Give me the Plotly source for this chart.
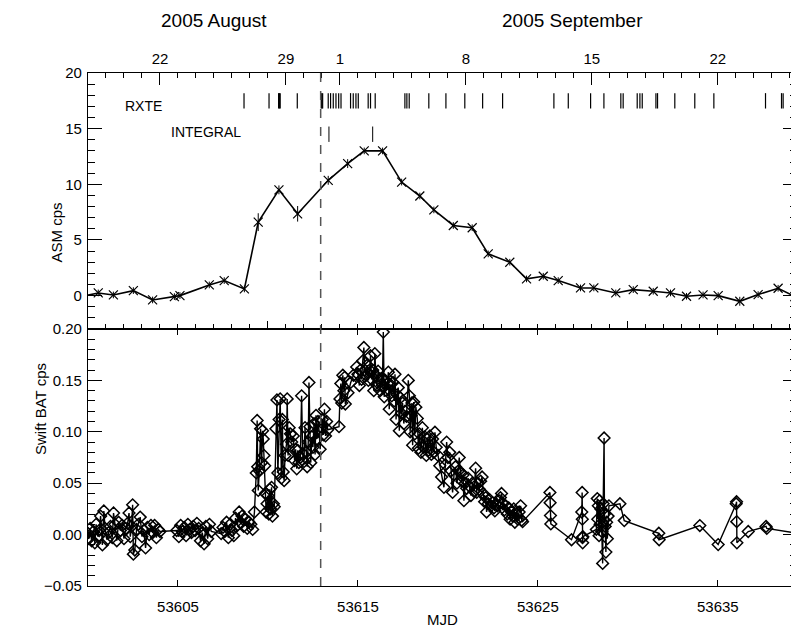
import plotly.graph_objects as go

# RXTE ASM daily averages
asm_mjd = [53599.6, 53600.57, 53601.41, 53602.52, 53603.59, 53604.80, 53605.11, 53606.74, 53607.57,
           53608.69, 53609.46, 53610.61, 53611.65, 53613.35, 53614.43, 53615.35, 53616.37, 53617.43,
           53618.44, 53619.22, 53620.30, 53621.35, 53622.24, 53623.44, 53624.37, 53625.30, 53626.13,
           53627.37, 53628.11, 53629.33, 53630.30, 53631.41, 53632.37, 53633.26, 53634.18, 53635.02,
           53636.22, 53637.24, 53638.35, 53639.28, 53640.2]
asm_cps = [-0.1, 0.24, 0.06, 0.45, -0.39, -0.09, 0.0, 0.96, 1.35,
           0.6, 6.6, 9.5, 7.35, 10.36, 11.86, 13.0, 13.0, 10.2,
           8.95, 7.7, 6.3, 6.1, 3.75, 3.0, 1.5, 1.74, 1.35,
           0.69, 0.69, 0.24, 0.54, 0.39, 0.24, -0.06, 0.06, 0.0,
           -0.51, 0.09, 0.66, -0.09, -0.3]
asm_err = [0.3, 0.3, 0.3, 0.3, 0.3, 0.3, 0.3, 0.3, 0.3,
           0.3, 0.8, 0.4, 0.7, 0.4, 0.4, 0.3, 0.3, 0.3,
           0.3, 0.3, 0.3, 0.3, 0.3, 0.3, 0.3, 0.3, 0.3,
           0.3, 0.3, 0.3, 0.3, 0.3, 0.3, 0.3, 0.3, 0.3,
           0.4, 0.3, 0.3, 0.3, 0.3]

# Swift BAT orbit-by-orbit rates
bat_mjd = [
    53599.95, 53600.05, 53600.12, 53600.20, 53600.30, 53600.38, 53600.45, 53600.55, 53600.62, 53600.70,
    53600.80, 53600.88, 53600.95, 53601.05, 53601.15, 53601.25, 53601.35, 53601.42, 53601.50, 53601.60,
    53601.70, 53601.80, 53601.90, 53602.00, 53602.10, 53602.20, 53602.28, 53602.35, 53602.42, 53602.48,
    53602.52, 53602.60, 53602.70, 53602.80, 53602.90, 53603.00, 53603.10, 53603.20, 53603.30, 53603.40,
    53603.50, 53603.60, 53603.70, 53603.80, 53603.90, 53604.00,
    53604.93, 53605.05, 53605.15, 53605.25, 53605.35, 53605.45, 53605.55, 53605.65, 53605.75, 53605.85,
    53605.95, 53606.05, 53606.15, 53606.25, 53606.35, 53606.45, 53606.55, 53606.65, 53606.75, 53606.85,
    53607.40, 53607.50, 53607.60, 53607.70, 53607.80, 53607.90, 53608.00, 53608.10, 53608.20, 53608.30,
    53608.40, 53608.48, 53608.56, 53608.65, 53608.75, 53608.85, 53608.95, 53609.05, 53609.15, 53609.25,
    53609.35, 53609.40, 53609.43, 53609.46, 53609.52, 53609.59, 53609.65, 53609.70, 53609.74, 53609.78,
    53609.82, 53609.86, 53609.90, 53609.95, 53610.00, 53610.05, 53610.10, 53610.15, 53610.20, 53610.25,
    53610.30, 53610.35, 53610.44, 53610.50, 53610.55, 53610.62, 53610.68, 53610.75, 53610.80, 53610.85,
    53610.90, 53610.95, 53611.03, 53611.07, 53611.12, 53611.18, 53611.25, 53611.32, 53611.41, 53611.48,
    53611.54, 53611.60, 53611.66, 53611.72, 53611.80, 53611.87, 53611.93, 53612.00, 53612.06, 53612.12,
    53612.18, 53612.24, 53612.28, 53612.33, 53612.38, 53612.44, 53612.50, 53612.56, 53612.62, 53612.67,
    53612.72, 53612.78, 53612.85, 53612.90, 53612.96, 53613.02, 53613.08, 53613.14, 53613.20, 53613.26,
    53613.32, 53613.95, 53614.00, 53614.05, 53614.10, 53614.16, 53614.22, 53614.26, 53614.30,
    53614.45, 53614.60, 53614.75, 53614.93, 53615.00, 53615.08, 53615.14, 53615.20, 53615.27, 53615.33,
    53615.38, 53615.45, 53615.52, 53615.58, 53615.65, 53615.70, 53615.76, 53615.82, 53615.88, 53615.94,
    53616.00, 53616.06, 53616.12, 53616.18, 53616.24, 53616.30, 53616.36, 53616.41, 53616.46, 53616.52,
    53616.58, 53616.64, 53616.69, 53616.74, 53616.80, 53616.88, 53616.95, 53617.02, 53617.06, 53617.12,
    53617.18, 53617.24, 53617.30, 53617.36, 53617.42, 53617.48, 53617.55, 53617.62, 53617.70, 53617.80,
    53617.86, 53617.90, 53617.95, 53618.00, 53618.04, 53618.10, 53618.16, 53618.22, 53618.30, 53618.36,
    53618.42, 53618.50, 53618.58, 53618.65, 53618.72, 53618.80, 53618.86, 53618.92, 53619.00, 53619.08,
    53619.15, 53619.22, 53619.28, 53619.35, 53619.45, 53619.55, 53619.65, 53619.78, 53619.86, 53619.93,
    53620.00, 53620.10, 53620.18, 53620.26, 53620.34, 53620.42, 53620.50, 53620.58, 53620.63, 53620.70,
    53620.78, 53620.84, 53620.89, 53620.96, 53621.04, 53621.12, 53621.20, 53621.28, 53621.36, 53621.45,
    53621.54, 53621.60, 53621.66, 53621.74, 53621.82, 53621.90, 53621.96, 53622.04, 53622.10, 53622.15,
    53622.24, 53622.32, 53622.40, 53622.48, 53622.56, 53622.61, 53622.68, 53622.76, 53622.84, 53622.92,
    53622.98, 53623.06, 53623.14, 53623.22, 53623.30, 53623.38, 53623.46, 53623.54, 53623.60, 53623.66,
    53623.72, 53623.80, 53623.88, 53623.96, 53624.04, 53624.10, 53624.15,
    53625.67, 53625.68, 53625.70, 53625.72, 53626.87, 53627.44, 53627.46, 53627.47, 53627.48, 53627.49,
    53627.50, 53628.25, 53628.30, 53628.33, 53628.36, 53628.40, 53628.43, 53628.46, 53628.50, 53628.55,
    53628.60, 53628.63, 53628.68, 53628.70, 53628.74, 53628.78, 53628.82, 53628.86, 53628.90, 53628.95,
    53629.56, 53629.80, 53631.72, 53631.74, 53634.00, 53635.02, 53636.02, 53636.04, 53636.05, 53636.06,
    53636.69, 53637.68, 53637.72, 53639.90]
bat_cps = [
    0.002, -0.004, 0.006, -0.006, 0.003, -0.008, 0.010, -0.002, 0.004, 0.018,
    -0.010, 0.023, 0.006, -0.005, 0.002, 0.008, -0.003, 0.021, 0.010, -0.006,
    0.012, 0.004, 0.009, -0.004, 0.006, 0.011, 0.021, -0.002, 0.008, 0.029,
    -0.019, -0.015, 0.005, 0.010, 0.017, -0.002, 0.004, -0.013, 0.007, 0.000,
    0.009, 0.002, 0.009, -0.003, 0.005, 0.003,
    0.004, -0.002, 0.009, 0.003, 0.007, -0.001, 0.010, 0.005, 0.002, 0.008,
    0.004, 0.011, 0.006, -0.006, 0.002, -0.009, 0.008, -0.004, 0.010, 0.003,
    0.001, 0.007, 0.003, 0.012, -0.003, 0.010, 0.004, -0.001, 0.016, 0.009,
    0.022, 0.012, 0.018, 0.008, 0.015, 0.006, 0.012, 0.010, 0.005, 0.022,
    0.060, 0.111, 0.066, 0.043, 0.062, 0.103, 0.070, 0.101, 0.093, 0.077,
    0.067, 0.040, 0.022, 0.030, 0.038, 0.020, 0.044, 0.025, 0.046, 0.018,
    0.030, 0.027, 0.103, 0.131, 0.060, 0.112, 0.132, 0.055, 0.112, 0.061,
    0.0525, 0.077, 0.088, 0.132, 0.077, 0.104, 0.098, 0.090, 0.096, 0.072,
    0.083, 0.064, 0.082, 0.070, 0.075, 0.135, 0.079, 0.071, 0.104, 0.080,
    0.066, 0.090, 0.148, 0.105, 0.070, 0.095, 0.085, 0.108, 0.078, 0.116,
    0.093, 0.110, 0.100, 0.083, 0.104, 0.112, 0.097, 0.122, 0.096, 0.110,
    0.102, 0.105, 0.132, 0.147, 0.128, 0.155, 0.140, 0.153, 0.127,
    0.138, 0.148, 0.155, 0.163, 0.156, 0.145, 0.160, 0.151, 0.169, 0.182,
    0.160, 0.155, 0.165, 0.150, 0.160, 0.174, 0.151, 0.160, 0.140, 0.176,
    0.155, 0.145, 0.159, 0.150, 0.140, 0.152, 0.145, 0.197, 0.134, 0.150,
    0.140, 0.147, 0.158, 0.122, 0.146, 0.135, 0.148, 0.130, 0.156, 0.112,
    0.136, 0.143, 0.101, 0.133, 0.118, 0.128, 0.108, 0.120, 0.115, 0.150,
    0.135, 0.100, 0.116, 0.128, 0.087, 0.129, 0.098, 0.124, 0.113, 0.084,
    0.098, 0.080, 0.104, 0.085, 0.095, 0.077, 0.093, 0.082, 0.096, 0.078,
    0.093, 0.080, 0.0996, 0.085, 0.077, 0.067, 0.056, 0.046, 0.068, 0.090,
    0.075, 0.080, 0.062, 0.041, 0.058, 0.066, 0.050, 0.062, 0.075, 0.061,
    0.052, 0.058, 0.033, 0.050, 0.045, 0.055, 0.047, 0.038, 0.050, 0.042,
    0.0646, 0.041, 0.050, 0.044, 0.052, 0.056, 0.040, 0.032, 0.036, 0.022,
    0.030, 0.034, 0.028, 0.031, 0.026, 0.023, 0.030, 0.028, 0.033, 0.036,
    0.040, 0.030, 0.024, 0.028, 0.020, 0.026, 0.015, 0.022, 0.018, 0.025,
    0.012, 0.020, 0.015, 0.022, 0.028, 0.014, 0.0126,
    0.041, 0.031, 0.0185, 0.0104, -0.005, 0.022, 0.041, 0.015, -0.003, -0.008,
    -0.002, 0.005, 0.035, 0.015, 0.028, -0.001, 0.033, 0.010, 0.025, 0.003,
    -0.028, 0.030, 0.094, 0.020, 0.008, -0.017, 0.012, -0.004, 0.018, 0.028,
    0.030, 0.0136, 0.0013, -0.005, 0.0088, -0.0097, 0.030, 0.032, 0.0126, -0.008,
    0.003, 0.008, 0.006, 0.000]

# pointed observations
rxte_mjd = [53608.67, 53610.06, 53610.59, 53610.64, 53610.68, 53611.63, 53612.96, 53613.00, 53613.04,
            53613.35, 53613.48, 53613.63, 53613.78, 53613.93, 53614.06, 53614.59, 53614.74, 53614.89,
            53615.02, 53615.57, 53615.70, 53615.96, 53617.61, 53617.72, 53617.85, 53618.94,
            53619.89, 53620.94, 53621.93, 53623.04, 53625.89, 53626.69, 53627.93, 53628.67,
            53629.61, 53629.74, 53630.52, 53630.67, 53630.80, 53631.56, 53631.65, 53632.61,
            53633.72, 53634.78, 53637.65, 53638.54, 53638.63]
integral_mjd = [53613.39, 53615.82]

# top axis calendar ticks (MJD of the date)
date_mjd = [53604, 53611, 53614, 53621, 53628, 53635]
date_text = ['22', '29', '1', '8', '15', '22']
month_mjd = [53607.0, 53626.9]
month_text = ['2005 August', '2005 September']

dashed_mjd = 53612.93
x_range = [53600, 53639.4]

font = 'Liberation Sans, Arial, sans-serif'
black = 'black'

fig = go.Figure()

fig.add_trace(go.Scatter(
    x=asm_mjd, y=asm_cps, mode='lines+markers', xaxis='x', yaxis='y',
    line=dict(color=black, width=1.6),
    marker=dict(symbol='x-thin-open', size=9, color=black, line=dict(color=black, width=1.2)),
    error_y=dict(type='data', array=asm_err, width=0, thickness=1, color=black),
    showlegend=False))

fig.add_trace(go.Scatter(
    x=rxte_mjd, y=[17.5] * len(rxte_mjd), mode='markers', xaxis='x', yaxis='y',
    marker=dict(symbol='line-ns-open', size=11, color=black, line=dict(color=black, width=1.2)),
    showlegend=False))
fig.add_trace(go.Scatter(
    x=integral_mjd, y=[14.5] * len(integral_mjd), mode='markers', xaxis='x', yaxis='y',
    marker=dict(symbol='line-ns-open', size=11, color=black, line=dict(color=black, width=1)),
    showlegend=False))

fig.add_trace(go.Scatter(
    x=bat_mjd, y=bat_cps, mode='lines+markers', xaxis='x2', yaxis='y2',
    line=dict(color=black, width=1.4),
    marker=dict(symbol='diamond-open', size=9, color=black, line=dict(color=black, width=1.5)),
    showlegend=False))

# dummy trace so the calendar axis is drawn
fig.add_trace(go.Scatter(x=x_range, y=[None, None], xaxis='x3', yaxis='y',
                         showlegend=False, hoverinfo='skip'))

axis_common = dict(showline=True, linecolor=black, linewidth=1.3, showgrid=False,
                   zeroline=False, ticks='inside', tickcolor=black, tickwidth=1.2,
                   automargin=False,
                   tickfont=dict(family=font, size=15, color=black))

split = 257 / 513

# the page body adds an 8 px margin, so the figure is 8 px smaller on each side
fig.update_layout(
    width=791, height=620,
    margin=dict(l=80, r=2, t=65, b=42),
    paper_bgcolor='white', plot_bgcolor='white',
    font=dict(family=font, size=15, color=black),
    xaxis=dict(domain=[0, 1], anchor='y', range=x_range, showticklabels=False,
               tickmode='linear', tick0=53600, dtick=10, ticklen=8,
               minor=dict(ticks='inside', tick0=53600, dtick=1, ticklen=5,
                          tickcolor=black, tickwidth=1),
               **axis_common),
    xaxis3=dict(overlaying='x', anchor='y', side='top', range=x_range,
                tickmode='array', tickvals=date_mjd, ticktext=date_text, ticklen=12,
                ticklabelstandoff=2,
                minor=dict(ticks='inside', tick0=53600, dtick=1, ticklen=5,
                           tickcolor=black, tickwidth=1),
                **axis_common),
    yaxis=dict(domain=[split, 1], anchor='x', range=[-3, 20],
               tickmode='linear', tick0=0, dtick=5, ticklen=14, mirror='ticks',
               ticklabelstandoff=2,
               minor=dict(ticks='inside', dtick=1, ticklen=7, tickcolor=black, tickwidth=1),
               **axis_common),
    xaxis2=dict(domain=[0, 1], anchor='y2', range=x_range,
                tickmode='linear', tick0=53605, dtick=10, ticklen=6, mirror='ticks',
                tickformat='d', ticklabelstandoff=7,
                title=dict(text='MJD', font=dict(family=font, size=15)),
                **axis_common),
    yaxis2=dict(domain=[0, split], anchor='x2', range=[-0.05, 0.20],
                tickmode='linear', tick0=0, dtick=0.05, tickformat='.2f', ticklen=14,
                mirror='ticks', ticklabelstandoff=2,
                minor=dict(ticks='inside', dtick=0.01, ticklen=7, tickcolor=black, tickwidth=1),
                **axis_common),
)

fig.add_shape(type='line', xref='x', yref='paper', x0=dashed_mjd, x1=dashed_mjd, y0=0, y1=1,
              line=dict(color='#555555', width=1.5, dash='dash'))

fig.add_annotation(x=53603.08, y=17.07, xref='x', yref='y', text='RXTE', showarrow=False,
                   font=dict(family=font, size=14))
fig.add_annotation(x=53606.58, y=14.73, xref='x', yref='y', text='INTEGRAL', showarrow=False,
                   font=dict(family=font, size=14))

# y-axis titles placed like the original
fig.add_annotation(x=-43 / 709, y=(1 + split) / 2, xref='paper', yref='paper', text='ASM cps',
                   textangle=-90, showarrow=False, font=dict(family=font, size=15))
fig.add_annotation(x=-58 / 709, y=split / 2, xref='paper', yref='paper', text='Swift BAT cps',
                   textangle=-90, showarrow=False, font=dict(family=font, size=15))

for m, t in zip(month_mjd, month_text):
    fig.add_annotation(x=m, y=1.103, xref='x', yref='paper', yanchor='middle', text=t,
                       showarrow=False, font=dict(family=font, size=19))

fig.write_html("out.html")
